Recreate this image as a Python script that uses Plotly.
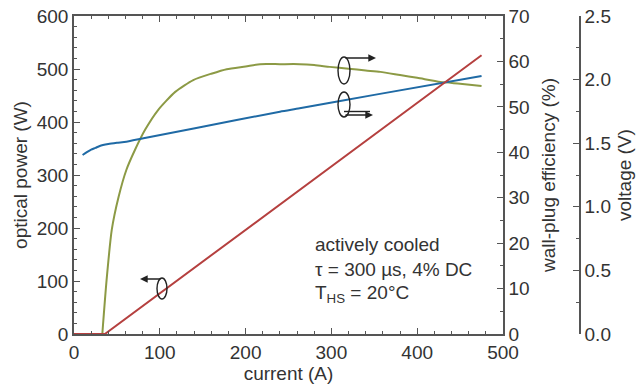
import plotly.graph_objects as go

# ---- data ----
current_power = [0, 36, 475]
optical_power = [0, 0, 526]

current_wpe = [33, 38, 44, 52, 61, 71, 83, 98, 118, 139, 160, 178, 200, 217, 240, 263,
               280, 298, 320, 340, 357, 380, 400, 427, 450, 475]
wpe = [0, 11.9, 22.9, 30.2, 36.1, 40.5, 45.0, 49.3, 53.3, 55.9, 57.3, 58.3, 58.9, 59.4,
       59.4, 59.4, 59.2, 58.8, 58.4, 58.0, 57.7, 57.0, 56.4, 55.5, 55.1, 54.6]

current_volt = [10, 15, 20, 25, 30, 40, 50, 61, 81, 141, 240, 263, 350, 475]
voltage = [1.407, 1.43, 1.45, 1.463, 1.478, 1.493, 1.503, 1.512, 1.539, 1.617,
           1.748, 1.774, 1.88, 2.028]

annot_lines = ["actively cooled", "τ = 300 µs, 4% DC", "T<sub>HS</sub> = 20°C"]

# ---- style ----
RED = "#b5403f"
BLUE = "#1f6aa5"
GREEN = "#8c9a45"
TXT = "#333333"
AX = "#555555"
FONT = "Liberation Sans, Arial, sans-serif"
FS = 19

W, H = 639, 392
L, R, T, B = 74, 59, 16, 58
PW = W - L - R
PH = H - T - B


def px(x):
    return (x - L) / PW


def py(y):
    return (H - B - y) / PH


fig = go.Figure()
fig.add_trace(go.Scatter(x=current_wpe, y=wpe, mode="lines",
                         line=dict(color=GREEN, width=2, shape="spline", smoothing=0.6),
                         xaxis="x", yaxis="y"))
fig.add_trace(go.Scatter(x=current_volt, y=voltage, mode="lines",
                         line=dict(color=BLUE, width=2, shape="spline", smoothing=0.6),
                         xaxis="x", yaxis="y2"))
fig.add_trace(go.Scatter(x=current_power, y=optical_power, mode="lines", line=dict(color=RED, width=2),
                         xaxis="x", yaxis="y3"))

common = dict(showgrid=False, zeroline=False, showline=True, linecolor=AX, linewidth=1.5,
              ticks="inside", tickcolor=AX, tickwidth=1.2, ticklen=6, automargin=False,
              tickfont=dict(family=FONT, size=FS, color=TXT))

fig.update_layout(
    width=W, height=H,
    margin=dict(l=L, r=R, t=T, b=B),
    paper_bgcolor="white", plot_bgcolor="white",
    showlegend=False,
    xaxis=dict(domain=[0, 429 / PW], range=[0, 500], dtick=100, mirror="ticks",
               minor=dict(dtick=20, ticks="inside", ticklen=3, tickcolor=AX),
               title=dict(text="current (A)", font=dict(family=FONT, size=FS, color=TXT), standoff=4),
               anchor="y", **common),
    yaxis=dict(range=[0, 70], dtick=10, side="right", anchor="x",
               minor=dict(dtick=5, ticks="inside", ticklen=3, tickcolor=AX),
               title=dict(text="wall-plug efficiency (%)", font=dict(family=FONT, size=FS, color=TXT), standoff=13),
               **common),
    yaxis2=dict(range=[0, 2.5], dtick=0.5, tickformat=".1f", side="right", anchor="free", position=1,
                overlaying="y",
                minor=dict(dtick=0.25, ticks="inside", ticklen=3, tickcolor=AX),
                title=dict(text="voltage (V)", font=dict(family=FONT, size=FS, color=TXT), standoff=7),
                **common),
    yaxis3=dict(range=[0, 600], dtick=100, side="left", anchor="x", overlaying="y",
                minor=dict(dtick=20, ticks="inside", ticklen=3, tickcolor=AX),
                title=dict(text="optical power (W)", font=dict(family=FONT, size=FS, color=TXT), standoff=4),
                **common),
)

# text block
for i, t in enumerate(annot_lines):
    fig.add_annotation(x=px(313), y=py(244 + 25 * i), xref="paper", yref="paper",
                       text=t, showarrow=False, xanchor="left", yanchor="middle",
                       font=dict(family=FONT, size=FS, color=TXT))

# ellipses
for (x0, x1, y0, y1) in [(157, 167, 278, 299), (338, 350, 57, 84), (338, 350, 92, 117)]:
    fig.add_shape(type="circle", xref="paper", yref="paper",
                  x0=px(x0), x1=px(x1), y0=py(y1), y1=py(y0),
                  line=dict(color="#222222", width=1.4))

# arrows
for (hx, hy, ax) in [(140, 279, 22), (376, 58, -32), (373, 115, -29)]:
    fig.add_annotation(x=px(hx), y=py(hy), xref="paper", yref="paper", text="",
                       showarrow=True, ax=ax, ay=0, arrowhead=2, arrowsize=1.1,
                       arrowwidth=1.4, arrowcolor="#222222")
fig.add_shape(type="line", xref="paper", yref="paper", x0=px(344), x1=px(370),
              y0=py(111.5), y1=py(111.5), line=dict(color="#222222", width=1.4))

fig.write_html("out.html")
